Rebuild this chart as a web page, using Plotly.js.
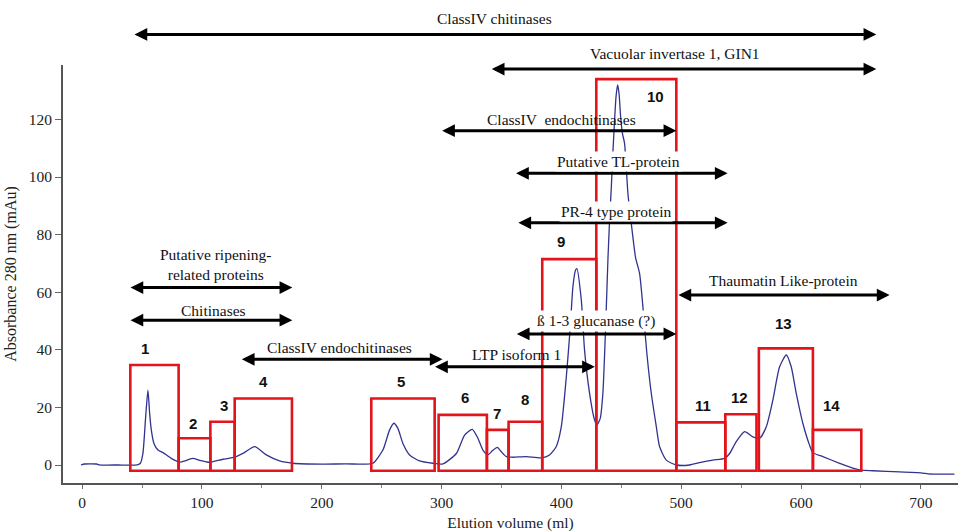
<!DOCTYPE html>
<html>
<head>
<meta charset="utf-8">
<script src="https://cdn.plot.ly/plotly-3.0.1.min.js"></script>
<style>
  html, body { margin: 0; padding: 0; background: #ffffff; }
  #chart { width: 960px; height: 532px; }
</style>
</head>
<body>
<div id="chart"></div>
<script>
// Elution profile: absorbance at 280 nm (mAu) against elution volume (ml)
const elutionVolume = [
  -1, 2, 12, 14, 30, 46,
  48.6, 50.7, 53.0, 54.9, 56.3, 57.7, 59.9, 63.3, 67.4, 70.3, 74.4, 78.6, 81.4,
  87, 92.5, 98, 103.6, 106.4, 117.5, 127.3, 135, 144.0, 153.7, 164.8, 175.9,
  200, 220, 235,
  242.7, 251.0, 256.6, 260.2, 263.5, 267.7, 273.3, 281.6, 292.7, 301.1,
  312.3, 319.2, 325.6, 330.3, 334.5, 338.6, 342.5, 346.5, 349.8, 354.0, 359.5, 370.7, 383.2,
  390.1, 395.7, 399.9, 404.1, 407.4, 409.6, 411.8, 412.9, 416.6, 419.3, 423.5, 427.7, 429.6,
  432.4, 434.6, 436.9, 438.8, 440.2, 441.6, 442.9, 444.4, 445.6, 446.9, 448.1, 449.4, 451.0,
  452.7, 455.5, 458.3, 461.9, 465.2, 468.0, 471.3, 475.0, 479.2, 481.9, 487.5, 495.9,
  507.0, 515.3, 526.4, 536.2, 540.4, 545.9, 552.9, 559.8, 565.4, 571.0, 576.5, 582.1,
  587.7, 591.8, 596.0, 601.5, 607.1, 609.9, 618.2, 632.2, 643.3, 650.3, 659.9, 682.3,
  701.7, 705.9, 728.0
];
const absorbance = [
  0.0, 0.35, 0.35, 0.05, 0.0, 0.05,
  0.6, 4.0, 16.8, 26.0, 18.0, 12.2, 7.5, 5.2, 4.3, 3.5, 2.3, 1.4, 1.0,
  1.6, 2.3, 1.6, 1.1, 0.9, 2.0, 2.7, 4.2, 6.4, 3.5, 1.4, 0.6,
  0.3, 0.4, 0.3,
  0.6, 5.2, 12.2, 14.5, 12.7, 7.5, 3.5, 1.4, 0.6, 0.4,
  4.0, 10.4, 12.4, 9.3, 5.2, 3.5, 5.0, 6.1, 4.6, 2.9, 2.7, 2.9, 2.5,
  3.5, 6.4, 13.3, 30.7, 48.0, 61.9, 67.7, 68.2, 57.3, 39.9, 24.9, 15.6, 13.9,
  16.2, 24.9, 48.0, 71.2, 85, 96, 108, 120, 128, 132, 129, 121, 115,
  111.7, 94.3, 83.9, 72, 66.6, 55, 38.8, 24.9, 13.3, 6.4, 1.7, 0.0,
  0.0, 0.8, 1.7, 2.3, 4.0, 8.1, 11.6, 9.8, 9.3, 13.3, 22.6, 34.1,
  38.2, 34.1, 24.9, 14.5, 6.9, 4.3, 2.9, 0.6, -1.1, -1.8, -2.0, -2.4,
  -2.8, -3.1, -3.2
];

// Collected fractions (pools 1-14)
const fractionNames = ['1', '2', '3', '4', '5', '6', '7', '8', '9', '10', '11', '12', '13', '14'];
const fractionStart = [40.2, 80.5, 107.0, 127.3, 241.3, 297.5, 337.8, 355.9, 384.0, 429.1, 495.9, 536.8, 564.8, 609.9];
const fractionEnd   = [80.5, 107.0, 127.3, 175.1, 294.2, 337.8, 355.9, 384.0, 429.1, 495.9, 536.8, 562.8, 609.9, 650.3];
const fractionTop   = [34.7, 9.3, 15.0, 23.1, 23.1, 17.4, 12.2, 15.0, 71.5, 134.0, 14.8, 17.6, 40.5, 12.2];
const fractionFloor = -2.0;
const fractionLabelVolume = [52.2, 92.5, 118.3, 151.7, 265.8, 319.2, 346.5, 369.9, 399.3, 478.3, 518.1, 548.7, 585.4, 625.2];
const fractionLabelAbs    = [40.5, 14.5, 20.5, 28.9, 28.9, 23.5, 18.0, 22.6, 77.5, 127.9, 20.6, 23.5, 49.2, 20.6];

// Proteins identified across elution ranges
const proteinNames = [
  'ClassIV chitinases',
  'Vacuolar invertase 1, GIN1',
  'ClassIV  endochitinases',
  'Putative TL-protein',
  'PR-4 type protein',
  'ß 1-3 glucanase (?)',
  'LTP isoform 1',
  'ClassIV endochitinases',
  'Thaumatin Like-protein',
  'Putative ripening-<br>related proteins',
  'Chitinases'
];
const proteinFrom  = [42.4, 340.6, 299.2, 360.9, 362.8, 361.5, 293.3, 132.0, 496.4, 39.1, 39.1];
const proteinTo    = [662.8, 662.8, 495.9, 538.7, 538.7, 495.9, 427.9, 300.8, 673.9, 175.4, 175.4];
const proteinLevel = [149.5, 137.5, 116.1, 101.3, 84.1, 45.5, 34.1, 36.7, 59.0, 61.6, 50.3];
const proteinLabelVolume = [344.2, 494.4, 400.3, 447.7, 445.8, 428.5, 362.8, 214.9, 585.4, 112.0, 109.2];
const proteinLabelAbs    = [155.2, 143.0, 120.0, 105.3, 88.0, 50.0, 38.4, 40.9, 64.2, 69.6, 53.8];
const proteinLabelBg     = [false, false, false, true, true, true, false, false, false, false, false];

const xTicks = [0, 100, 200, 300, 400, 500, 600, 700];
const yTicks = [0, 20, 40, 60, 80, 100, 120];
const xRange = [-16, 731];
const yRange = [-6.25, 138.9];

const SERIF = 'Liberation Serif, Times New Roman, serif';
const SANS = 'Liberation Sans, Arial, sans-serif';

// Levels above the y range are placed in paper units so they stay visible
function yPlacement(v) {
  if (v > yRange[1]) {
    return { yref: 'paper', y: (v - yRange[0]) / (yRange[1] - yRange[0]) };
  }
  return { yref: 'y', y: v };
}

const shapes = fractionStart.map((x0, i) => ({
  type: 'rect', xref: 'x', yref: 'y',
  x0: x0, x1: fractionEnd[i], y0: fractionFloor, y1: fractionTop[i],
  line: { color: '#e3141b', width: 2.6 },
  fillcolor: 'rgba(0,0,0,0)',
  layer: 'above'
}));

const annotations = [];

// double-headed range arrows
proteinNames.forEach((name, i) => {
  const p = yPlacement(proteinLevel[i]);
  const a = {
    xref: 'x', axref: 'x',
    x: proteinTo[i], ax: proteinFrom[i],
    text: '', showarrow: true,
    arrowside: 'end+start',
    arrowhead: 2, startarrowhead: 2,
    arrowsize: 0.85, startarrowsize: 0.85,
    arrowwidth: 3, arrowcolor: '#000000',
    standoff: 0, startstandoff: 0
  };
  if (p.yref === 'paper') {
    a.yref = 'paper'; a.y = p.y; a.ayref = 'pixel'; a.ay = 0;
  } else {
    a.yref = 'y'; a.y = p.y; a.ayref = 'y'; a.ay = p.y;
  }
  annotations.push(a);
});

// range labels
proteinNames.forEach((name, i) => {
  const p = yPlacement(proteinLabelAbs[i]);
  annotations.push({
    xref: 'x', x: proteinLabelVolume[i],
    yref: p.yref, y: p.y,
    text: name, showarrow: false,
    xanchor: 'center', yanchor: 'middle',
    font: { family: SERIF, size: 15.5, color: '#111111' },
    bgcolor: proteinLabelBg[i] ? '#ffffff' : 'rgba(0,0,0,0)',
    borderpad: 1
  });
});

// fraction numbers
fractionNames.forEach((name, i) => {
  annotations.push({
    xref: 'x', yref: 'y',
    x: fractionLabelVolume[i], y: fractionLabelAbs[i],
    text: '<b>' + name + '</b>', showarrow: false,
    xanchor: 'center', yanchor: 'middle',
    font: { family: SANS, size: 15, color: '#111111' }
  });
});

const trace = {
  type: 'scatter', mode: 'lines',
  x: elutionVolume, y: absorbance,
  line: { color: '#32338e', width: 1.3, shape: 'spline', smoothing: 0.6 },
  hoverinfo: 'skip'
};

const layout = {
  width: 960, height: 532,
  margin: { l: 63, r: 2, t: 65, b: 49 },
  paper_bgcolor: '#ffffff', plot_bgcolor: '#ffffff',
  showlegend: false,
  xaxis: {
    range: xRange, showgrid: false, zeroline: false,
    showline: true, linecolor: '#555555', linewidth: 2,
    tickmode: 'array', tickvals: xTicks, ticktext: xTicks.map(String),
    ticks: 'outside', ticklen: 4, tickcolor: '#666666',
    minor: { dtick: 50, tick0: 0, ticks: 'outside', ticklen: 3, tickcolor: '#888888' },
    tickfont: { family: SERIF, size: 15.5, color: '#222222' },
    title: { text: 'Elution volume (ml)', font: { family: SERIF, size: 15.5, color: '#222222' }, standoff: 10 }
  },
  yaxis: {
    range: yRange, showgrid: false, zeroline: false,
    showline: true, linecolor: '#555555', linewidth: 2,
    tickmode: 'array', tickvals: yTicks, ticktext: yTicks.map(String),
    ticks: 'outside', ticklen: 6, tickcolor: '#666666',
    tickfont: { family: SERIF, size: 15.5, color: '#222222' },
    title: { text: 'Absorbance 280 nm (mAu)', font: { family: SERIF, size: 16, color: '#222222' }, standoff: 8 }
  },
  shapes: shapes,
  annotations: annotations
};

Plotly.newPlot('chart', [trace], layout, { displayModeBar: false, staticPlot: true });
</script>
</body>
</html>
